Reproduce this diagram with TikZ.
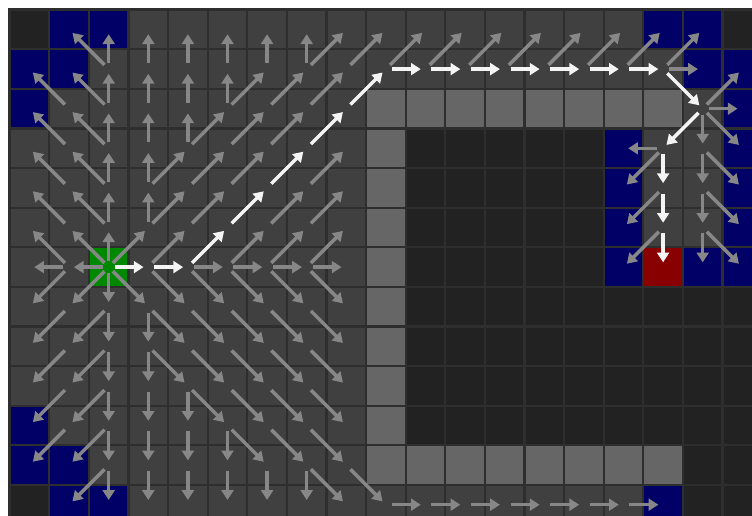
\documentclass[tikz,border=0pt]{standalone}
\usepackage{xcolor}
\usepackage{tikz}
\usetikzlibrary{arrows.meta,positioning}

\definecolor{floorgray}{HTML}{404040}
\definecolor{unseen}{HTML}{222222}
\definecolor{wallgray}{HTML}{666666}
\definecolor{frontier}{HTML}{000066}
\definecolor{startgreen}{HTML}{008800}
\definecolor{goalred}{HTML}{880000}
\definecolor{gridline}{HTML}{2E2E2E}
\definecolor{flowgray}{HTML}{878787}
\definecolor{routewhite}{HTML}{F4F4F4}

\begin{document}
\begin{tikzpicture}[
    flow/.style={-{Triangle[length=7pt,width=8.5pt]}, draw=flowgray, line width=2.5pt, shorten <=0.15cm, shorten >=0.12cm},
    route/.style={flow, draw=routewhite}
]
    \useasboundingbox (-0.245,0.245) rectangle (18.745,-12.76);
    \clip (-0.245,0.245) rectangle (18.745,-12.76);
    \fill[white] (-0.245,0.245) rectangle (18.745,-12.76);

    \fill[floorgray] (0,0) rectangle (19,-13);
    \fill[unseen] (10,-3) rectangle (15,-11);
    \fill[unseen] (15,-7) rectangle (19,-11);
    \fill[unseen] (17,-11) rectangle (19,-13);
    \foreach \c/\r in {0/0, 18/0, 0/12}
        \fill[unseen] (\c,-\r) rectangle ++(1,-1);
    \fill[wallgray] (9,-2) rectangle (17,-3);
    \fill[wallgray] (9,-3) rectangle (10,-11);
    \fill[wallgray] (9,-11) rectangle (17,-12);
    \foreach \c/\r in {1/0, 2/0, 0/1, 1/1, 0/2, 16/0, 17/0, 17/1, 18/1, 18/2, 18/3, 18/4, 18/5, 18/6, 17/6,
                      15/3, 15/4, 15/5, 15/6, 0/10, 0/11, 1/11, 1/12, 2/12, 16/12}
        \fill[frontier] (\c,-\r) rectangle ++(1,-1);
    \fill[startgreen] (2,-6) rectangle ++(1,-1);
    \fill[goalred] (16,-6) rectangle ++(1,-1);

    \draw[gridline, line width=1.5pt] (0,0) grid (19,-13);
    \draw[gridline, line width=1.8pt] (0,0) rectangle (19,-13);

    \foreach \c in {0,...,18}
        \foreach \r in {0,...,12}
            \coordinate (c-\c-\r) at (\c+0.5,-\r-0.5);

    \foreach \a/\b in {2-1/1-0, 2-1/2-0, 3-1/3-0, 4-1/4-0, 5-1/5-0, 6-1/6-0, 7-1/7-0, 7-1/8-0, 8-1/9-0,
        9-1/10-0, 10-1/11-0, 11-1/12-0, 12-1/13-0, 13-1/14-0, 14-1/15-0, 15-1/16-0, 16-1/17-0, 16-1/17-1,
        1-2/0-1, 2-2/1-1, 2-2/2-1, 3-2/3-1, 4-2/4-1, 5-2/5-1, 5-2/6-1, 6-2/7-1, 7-2/8-1,
        1-3/0-2, 2-3/1-2, 2-3/2-2, 3-3/3-2, 4-3/4-2, 4-3/5-2, 5-3/6-2, 6-3/7-2,
        1-4/0-3, 2-4/1-3, 2-4/2-3, 3-4/3-3, 3-4/4-3, 4-4/5-3, 5-4/6-3, 7-4/8-3,
        1-5/0-4, 2-5/1-4, 2-5/2-4, 3-5/3-4, 3-5/4-4, 4-5/5-4, 6-5/7-4, 7-5/8-4,
        1-6/0-5, 1-6/0-6, 1-6/0-7, 2-6/1-5, 2-6/2-5, 2-6/3-5, 2-6/1-6, 2-6/1-7, 2-6/2-7, 2-6/3-7,
        3-6/4-5, 3-6/4-7, 4-6/5-6, 4-6/5-7, 5-6/6-5, 5-6/6-6, 5-6/6-7,
        6-6/7-5, 6-6/7-6, 6-6/7-7, 7-6/8-5, 7-6/8-6, 7-6/8-7,
        1-7/0-8, 2-7/1-8, 2-7/2-8, 3-7/3-8, 3-7/4-8, 4-7/5-8, 5-7/6-8, 6-7/7-8, 7-7/8-8,
        1-8/0-9, 2-8/1-9, 2-8/2-9, 3-8/3-9, 3-8/4-9, 4-8/5-9, 5-8/6-9, 6-8/7-9, 7-8/8-9,
        1-9/0-10, 2-9/1-10, 2-9/2-10, 3-9/3-10, 4-9/4-10, 4-9/5-10, 5-9/6-10, 6-9/7-10, 7-9/8-10,
        1-10/0-11, 2-10/1-11, 2-10/2-11, 3-10/3-11, 4-10/4-11, 5-10/5-11, 5-10/6-11, 6-10/7-11, 7-10/8-11,
        2-11/1-12, 2-11/2-12, 3-11/3-12, 4-11/4-12, 5-11/5-12, 6-11/6-12, 7-11/7-12, 7-11/8-12, 8-11/9-12,
        9-12/10-12, 10-12/11-12, 11-12/12-12, 12-12/13-12, 13-12/14-12, 14-12/15-12, 15-12/16-12,
        17-2/18-1, 17-2/18-2, 17-2/18-3, 17-2/17-3, 16-3/15-3, 16-3/15-4, 17-3/17-4, 17-3/18-4,
        16-4/15-5, 17-4/17-5, 17-4/18-5, 16-5/15-6, 17-5/17-6, 17-5/18-6}
        \draw[flow] (c-\a) -- (c-\b);

    \foreach \a/\b in {2-6/3-6, 3-6/4-6, 4-6/5-5, 5-5/6-4, 6-4/7-3, 7-3/8-2, 8-2/9-1,
        9-1/10-1, 10-1/11-1, 11-1/12-1, 12-1/13-1, 13-1/14-1, 14-1/15-1, 15-1/16-1,
        16-1/17-2, 17-2/16-3, 16-3/16-4, 16-4/16-5, 16-5/16-6}
        \draw[route] (c-\a) -- (c-\b);
\end{tikzpicture}
\end{document}
